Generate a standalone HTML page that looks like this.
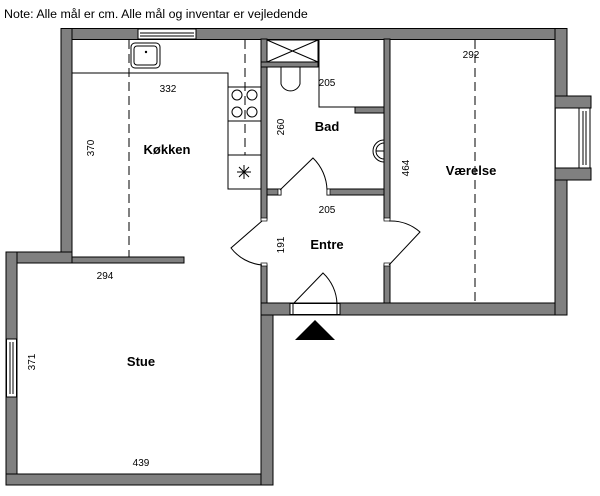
<!DOCTYPE html>
<html><head><meta charset="utf-8"><style>
html,body{margin:0;padding:0;background:#fff;width:600px;height:496px;overflow:hidden}
svg{display:block}
text{font-family:"Liberation Sans",Arial,sans-serif;fill:#000}
.w{fill:#808080;stroke:#000;stroke-width:1}
.l{fill:none;stroke:#000;stroke-width:1}
.d{fill:none;stroke:#000;stroke-width:1;stroke-dasharray:9,5}
.n{font-size:10px}
.b{font-size:13px;font-weight:bold}
</style></head><body>
<svg width="600" height="496" viewBox="0 0 600 496">
<text x="4" y="18" font-size="12.4">Note: Alle mål er cm. Alle mål og inventar er vejledende</text>
<!-- outer walls -->
<rect class="w" x="61" y="28.5" width="506" height="11"/>
<rect class="w" x="61" y="28.5" width="11" height="234"/>
<rect class="w" x="6" y="252" width="66" height="11"/>
<rect class="w" x="6" y="252" width="11" height="233"/>
<rect class="w" x="6" y="474" width="267" height="11"/>
<rect class="w" x="261" y="303" width="12" height="182"/>
<rect class="w" x="261" y="303" width="306" height="12"/>
<rect x="261.5" y="303.5" width="11" height="11" fill="#808080"/>
<rect class="w" x="555" y="28.5" width="12" height="286.5"/>
<rect class="w" x="555" y="96" width="36" height="12"/>
<rect class="w" x="555" y="168" width="36" height="12"/>
<rect x="556" y="108.5" width="23" height="59" fill="#fff"/>
<line class="l" x1="555" y1="108" x2="555" y2="96"/>
<!-- windows -->
<rect x="138" y="29" width="58" height="10" fill="#fff" stroke="#000"/>
<line class="l" x1="140" y1="33" x2="194" y2="33"/><line class="l" x1="140" y1="36" x2="194" y2="36"/>
<rect x="6.5" y="339" width="10" height="58" fill="#fff" stroke="#000"/>
<line class="l" x1="10" y1="342" x2="10" y2="394"/><line class="l" x1="13" y1="342" x2="13" y2="394"/>
<rect x="579" y="108" width="11" height="60" fill="#fff" stroke="#000"/>
<line class="l" x1="583" y1="111" x2="583" y2="165"/><line class="l" x1="586" y1="111" x2="586" y2="165"/>
<!-- entrance door -->
<rect x="290" y="303.5" width="50" height="11" fill="#fff" stroke="#000"/>
<line class="l" x1="293" y1="304" x2="293" y2="314"/><line class="l" x1="337" y1="304" x2="337" y2="314"/>
<path class="l" d="M293 304 L323 273 A44 44 0 0 1 337 304"/>
<polygon points="295,340 315,320 335,340" fill="#000"/>
<!-- interior walls -->
<rect class="w" x="72" y="257" width="112" height="6"/>
<rect class="w" x="261" y="39" width="6" height="180"/>
<rect class="w" x="261" y="265" width="6" height="38"/>
<rect class="w" x="384" y="39" width="6" height="180"/>
<rect class="w" x="384" y="265" width="6" height="38"/>
<rect class="w" x="261" y="62" width="57" height="5"/>
<rect class="w" x="267" y="189" width="14" height="6"/>
<rect class="w" x="327" y="189" width="57" height="6"/>
<rect class="w" x="355" y="107" width="29" height="6"/>
<rect x="261" y="218" width="6" height="3" fill="#fff" stroke="#000" stroke-width="0.7"/>
<rect x="384" y="218" width="6" height="3" fill="#fff" stroke="#000" stroke-width="0.7"/>
<rect x="261" y="263" width="6" height="3" fill="#fff" stroke="#000" stroke-width="0.7"/>
<rect x="384" y="263" width="6" height="3" fill="#fff" stroke="#000" stroke-width="0.7"/>
<rect x="278" y="189" width="3" height="6" fill="#fff" stroke="#000" stroke-width="0.7"/>
<rect x="327" y="189" width="3" height="6" fill="#fff" stroke="#000" stroke-width="0.7"/>
<!-- doors -->
<path class="l" d="M280 190 L313 158 A46 46 0 0 1 327 190"/>
<path class="l" d="M262 221 L231 248 A44 44 0 0 0 262 265"/>
<path class="l" d="M389 221 A44 44 0 0 1 420 232 L389 265"/>
<!-- shower -->
<rect class="l" x="267" y="40" width="51" height="22"/>
<line class="l" x1="267" y1="40" x2="318" y2="62"/><line class="l" x1="318" y1="40" x2="267" y2="62"/>
<!-- bad box -->
<path class="l" d="M319 40 L319 107 L355 107"/>
<!-- toilet -->
<path class="l" d="M281 67 L300 67 L300 84 A10 10 0 0 1 281 84 Z"/>
<!-- basin -->
<path class="l" d="M384 140 A11 11 0 0 0 384 162"/>
<path class="l" d="M384 143 A8 8 0 0 0 384 159"/>
<line class="l" x1="376" y1="151" x2="384" y2="151"/>
<!-- kitchen -->
<path class="l" d="M72 73 L228 73 L228 189 L261 189"/>
<line class="l" x1="228" y1="87" x2="261" y2="87"/>
<line class="l" x1="228" y1="121" x2="261" y2="121"/>
<line class="l" x1="228" y1="155" x2="261" y2="155"/>
<circle class="l" cx="237" cy="95" r="5"/><circle class="l" cx="252" cy="95" r="5"/>
<circle class="l" cx="237" cy="112" r="5"/><circle class="l" cx="252" cy="112" r="5"/>
<g class="l" stroke="#000"><line x1="237" y1="172" x2="251" y2="172"/><line x1="244" y1="165" x2="244" y2="179"/><line x1="239" y1="167" x2="249" y2="177"/><line x1="249" y1="167" x2="239" y2="177"/></g>
<rect x="131" y="43" width="29" height="25" rx="4" fill="none" stroke="#000"/>
<rect x="134" y="46" width="23" height="19" rx="3" fill="none" stroke="#000"/>
<circle cx="146" cy="52" r="1.2" fill="#000"/>
<!-- dashed -->
<line class="d" x1="129" y1="40" x2="129" y2="257"/>
<line class="d" x1="245" y1="40" x2="245" y2="155"/>
<line class="d" x1="475" y1="40" x2="475" y2="303"/>
<!-- labels -->
<text class="n" x="168" y="92" text-anchor="middle">332</text>
<text class="n" transform="translate(94,148) rotate(-90)" text-anchor="middle">370</text>
<text class="b" x="167" y="154" text-anchor="middle">Køkken</text>
<text class="n" transform="translate(284,127) rotate(-90)" text-anchor="middle">260</text>
<text class="n" x="327" y="86" text-anchor="middle">205</text>
<text class="b" x="327" y="131" text-anchor="middle">Bad</text>
<text class="n" x="327" y="213" text-anchor="middle">205</text>
<text class="n" transform="translate(284,245) rotate(-90)" text-anchor="middle">191</text>
<text class="b" x="327" y="249" text-anchor="middle">Entre</text>
<text class="n" transform="translate(409,168) rotate(-90)" text-anchor="middle">464</text>
<text class="b" x="471" y="175" text-anchor="middle">Værelse</text>
<text class="n" x="471" y="58" text-anchor="middle">292</text>
<text class="n" x="105" y="279" text-anchor="middle">294</text>
<text class="n" transform="translate(35,362) rotate(-90)" text-anchor="middle">371</text>
<text class="b" x="141" y="366" text-anchor="middle">Stue</text>
<text class="n" x="141" y="466" text-anchor="middle">439</text>
</svg>
</body></html>
